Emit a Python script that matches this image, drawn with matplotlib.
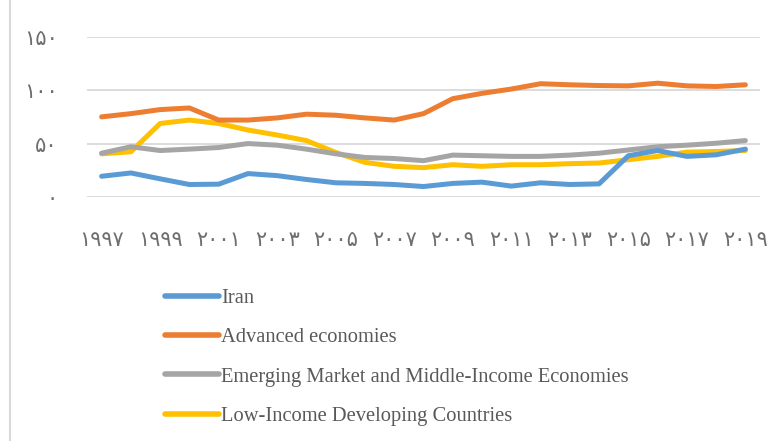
import numpy as np
import matplotlib.pyplot as plt
from matplotlib.lines import Line2D

years = list(range(1997, 2020))

iran = [19.4, 22.5, 17, 11.7, 12, 21.9, 20, 16.4, 13.3, 12.7, 11.7, 9.8,
        12.7, 13.9, 10.2, 13.3, 11.7, 12.3, 38.6, 43.5, 38, 39.5, 44.8]
advanced = [75, 78, 81.8, 83.3, 72, 72, 74, 77.5, 76.5, 74, 72, 78,
            92, 97, 101, 106, 105, 104.3, 104, 106.5, 104, 103.4, 105]
emerging = [41, 47, 43.5, 44.8, 46.3, 50, 48.5, 44.8, 40.4, 37, 36, 34,
            39.2, 38.6, 38, 38, 39.2, 41, 44, 47, 48.5, 50.3, 52.8]
low_income = [40.4, 42.3, 68.8, 72, 68.8, 62.7, 58, 52.8, 41.7, 32.4, 28.7, 27.5,
              30.2, 28.7, 30.2, 30.2, 31.2, 31.8, 34.9, 38, 42, 42.6, 43.5]

names = ['Iran', 'Advanced economies',
         'Emerging Market and Middle-Income Economies',
         'Low-Income Developing Countries']
colors = ['#5B9BD5', '#ED7D31', '#A5A5A5', '#FFC000']

yticks = [0, 50, 100, 150]
ytick_labels = ['۰', '۵۰', '۱۰۰', '۱۵۰']
xtick_years = years[::2]
fa_digits = str.maketrans('0123456789', '۰۱۲۳۴۵۶۷۸۹')
xtick_labels = [str(y).translate(fa_digits) for y in xtick_years]

fig = plt.figure(figsize=(7.84, 4.41), dpi=100)
ax = fig.add_axes([87/784, 1-197/441, (760-87)/784, (197-36.7)/441])

series = [iran, advanced, emerging, low_income]
# draw in reverse so Iran sits on top like the original
for vals, c in reversed(list(zip(series, colors))):
    ax.plot(years, vals, color=c, lw=3.6, solid_capstyle='round',
            solid_joinstyle='round')

ax.set_xlim(1996.5, 2019.5)
ax.set_ylim(0, 150)
ax.set_yticks(yticks)
ax.set_yticklabels(ytick_labels, family=['DejaVu Sans'], fontsize=15, color='#6E6E6E')
ax.set_xticks(xtick_years)
ax.set_xticklabels(xtick_labels, family=['DejaVu Sans'], fontsize=15, color='#6E6E6E')
ax.tick_params(axis='y', length=0, pad=21)
ax.tick_params(axis='x', length=0, pad=24)
ax.grid(axis='y', color='#D9D9D9', lw=1.3)
ax.set_axisbelow(True)
for s in ax.spines.values():
    s.set_visible(False)

handles = [Line2D([], [], color=c, lw=4, solid_capstyle='round') for c in colors]
fig.legend(handles, names, loc='upper left', bbox_to_anchor=(146/784, 1-270/441),
           frameon=False, handlelength=2.65, handletextpad=0.1, labelspacing=0.97,
           prop={'family': 'Liberation Serif', 'size': 14.8}, labelcolor='#595959')

fig.add_artist(Line2D([10/784, 10/784], [0, 1], color='#D9D9D9', lw=1.5,
                      transform=fig.transFigure))

fig.savefig('out.png', dpi=100)
